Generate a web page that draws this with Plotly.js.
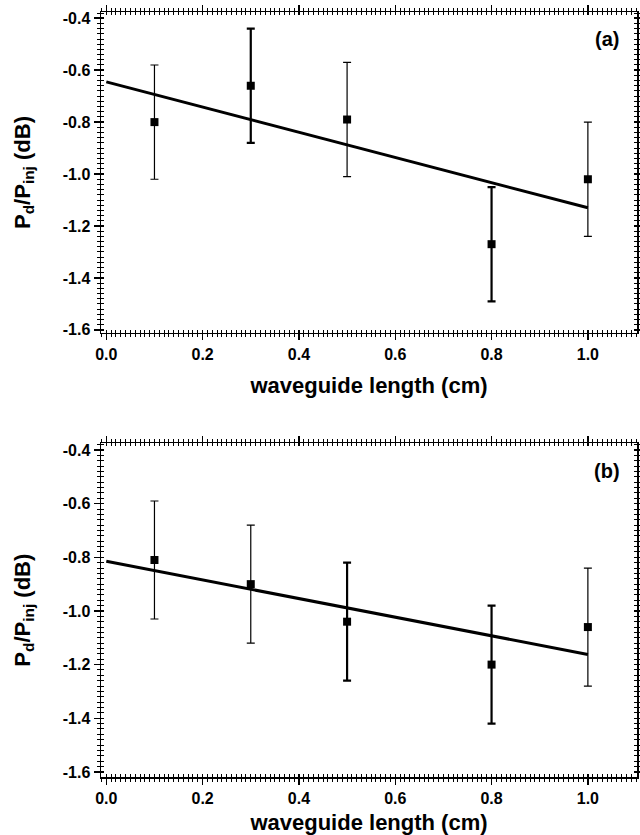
<!DOCTYPE html>
<html><head><meta charset="utf-8">
<script src="https://cdn.plot.ly/plotly-3.0.1.min.js"></script>
<style>body{margin:0;background:#fff}#c{width:640px;height:835px}</style>
</head><body><div id="c"></div>
<script>
const xLen = [0.1, 0.3, 0.5, 0.8, 1.0];
const yA = [-0.80, -0.66, -0.79, -1.27, -1.02];
const errA = [0.22, 0.22, 0.22, 0.22, 0.22];
const yB = [-0.81, -0.90, -1.04, -1.20, -1.06];
const errB = [0.22, 0.22, 0.22, 0.22, 0.22];
const fitX = [0.0, 1.0];
const fitA = [-0.645, -1.13];
const fitB = [-0.815, -1.162];
const thickA = [false, true, false, true, false];
const thickB = [false, false, true, true, false];
const xTickVals = [0, 0.2, 0.4, 0.6, 0.8, 1.0];
const xTickText = ['0.0', '0.2', '0.4', '0.6', '0.8', '1.0'];
const yTickVals = [-1.6, -1.4, -1.2, -1.0, -0.8, -0.6, -0.4];
const yTickText = ['-1.6', '-1.4', '-1.2', '-1.0', '-0.8', '-0.6', '-0.4'];
const xTitle = 'waveguide length (cm)';
const yTitle = 'P<sub>d</sub>/P<sub>inj</sub> (dB)';
const panelLabels = ['(a)', '(b)'];

const XR = [-0.011, 1.102];
const YRA = [-1.612, -0.376];
const YRB = [-1.619, -0.375];
const xMinor = []; for (let i = -1; i <= 111; i++) xMinor.push(+(i * 0.01).toFixed(3));
const yMinor = []; for (let i = -82; i <= -18; i++) yMinor.push(+(i * 0.02).toFixed(3));

const FONT = 'Liberation Sans, Arial, sans-serif';
function pts(ys, errs, mask, want, xa, ya) {
  const xs = [], yy = [], ee = [];
  xLen.forEach((x, i) => { if (mask[i] === want) { xs.push(x); yy.push(ys[i]); ee.push(errs[i]); } });
  return {
    x: xs, y: yy, xaxis: xa, yaxis: ya, type: 'scatter', mode: 'markers',
    marker: {symbol: 'square', size: 8, color: '#000'},
    error_y: {type: 'data', array: ee, visible: true, color: '#000', thickness: want ? 2.2 : 1.2, width: 4},
    showlegend: false, hoverinfo: 'skip'
  };
}
const data = [
  {x: fitX, y: fitA, xaxis: 'x', yaxis: 'y', mode: 'lines', line: {color: '#000', width: 3}, showlegend: false},
  pts(yA, errA, thickA, false, 'x', 'y'),
  pts(yA, errA, thickA, true, 'x', 'y'),
  {x: fitX, y: fitB, xaxis: 'x2', yaxis: 'y2', mode: 'lines', line: {color: '#000', width: 3}, showlegend: false},
  pts(yB, errB, thickB, false, 'x2', 'y2'),
  pts(yB, errB, thickB, true, 'x2', 'y2'),
  {x: [], y: [], xaxis: 'x3', yaxis: 'y3', mode: 'markers', showlegend: false},
  {x: [], y: [], xaxis: 'x4', yaxis: 'y4', mode: 'markers', showlegend: false}
];
const tickFont = {family: FONT, size: 16, color: '#000', weight: 'bold'};
const titleFont = {family: FONT, size: 22, color: '#000', weight: 'bold'};
function xax(anchor) {
  return {
    anchor: anchor, domain: [0, 1], range: XR,
    tickmode: 'array', tickvals: xTickVals, ticktext: xTickText,
    ticks: 'outside', ticklen: 6, tickwidth: 1.5, tickcolor: '#000',
    minor: {tickmode: 'array', tickvals: xMinor, ticks: 'outside', ticklen: 3, tickwidth: 1, tickcolor: '#000'},
    showline: true, linecolor: '#000', linewidth: 1.5, mirror: 'allticks',
    showgrid: false, zeroline: false, tickfont: tickFont,
    title: {text: xTitle, font: titleFont, standoff: 16}
  };
}
function yax(anchor, dom, rng) {
  return {
    anchor: anchor, domain: dom, range: rng,
    tickmode: 'array', tickvals: yTickVals, ticktext: yTickText,
    ticks: 'outside', ticklen: 6, tickwidth: 1.5, tickcolor: '#000',
    minor: {tickmode: 'array', tickvals: yMinor, ticks: 'outside', ticklen: 3, tickwidth: 1, tickcolor: '#000'},
    showline: true, linecolor: '#000', linewidth: 1.5, mirror: 'allticks',
    showgrid: false, zeroline: false, tickfont: tickFont,
    title: {text: yTitle, font: titleFont, standoff: 26}
  };
}
function xin(over, anchor) {
  return {
    overlaying: over, anchor: anchor, range: XR, showticklabels: false, showline: false,
    tickmode: 'array', tickvals: xTickVals, ticks: 'inside', ticklen: 3, tickwidth: 1.5, tickcolor: '#000',
    minor: {tickmode: 'array', tickvals: xMinor, ticks: 'inside', ticklen: 3, tickwidth: 1, tickcolor: '#000'},
    mirror: 'allticks', showgrid: false, zeroline: false
  };
}
function yin(over, anchor, rng) {
  return {
    overlaying: over, anchor: anchor, range: rng, showticklabels: false, showline: false,
    tickmode: 'array', tickvals: yTickVals, ticks: 'inside', ticklen: 3, tickwidth: 1.5, tickcolor: '#000',
    minor: {tickmode: 'array', tickvals: yMinor, ticks: 'inside', ticklen: 3, tickwidth: 1, tickcolor: '#000'},
    mirror: 'allticks', showgrid: false, zeroline: false
  };
}
const labelFont = {family: FONT, size: 20, color: '#000', weight: 'bold'};
const layout = {
  width: 640, height: 835,
  margin: {l: 101, r: 3, t: 12, b: 58},
  paper_bgcolor: '#fff', plot_bgcolor: 'rgba(0,0,0,0)',
  xaxis: xax('y'),
  yaxis: yax('x', [0.5804, 1], YRA),
  xaxis2: xax('y2'),
  yaxis2: yax('x2', [0, 0.4362], YRB),
  xaxis3: xin('x', 'y3'),
  yaxis3: yin('y', 'x3', YRA),
  xaxis4: xin('x2', 'y4'),
  yaxis4: yin('y2', 'x4', YRB),
  annotations: [
    {text: panelLabels[0], xref: 'x', yref: 'y', x: 1.04, y: -0.48, showarrow: false, font: labelFont},
    {text: panelLabels[1], xref: 'x2', yref: 'y2', x: 1.04, y: -0.48, showarrow: false, font: labelFont}
  ]
};
Plotly.newPlot('c', data, layout, {displayModeBar: false, staticPlot: true});
</script></body></html>
